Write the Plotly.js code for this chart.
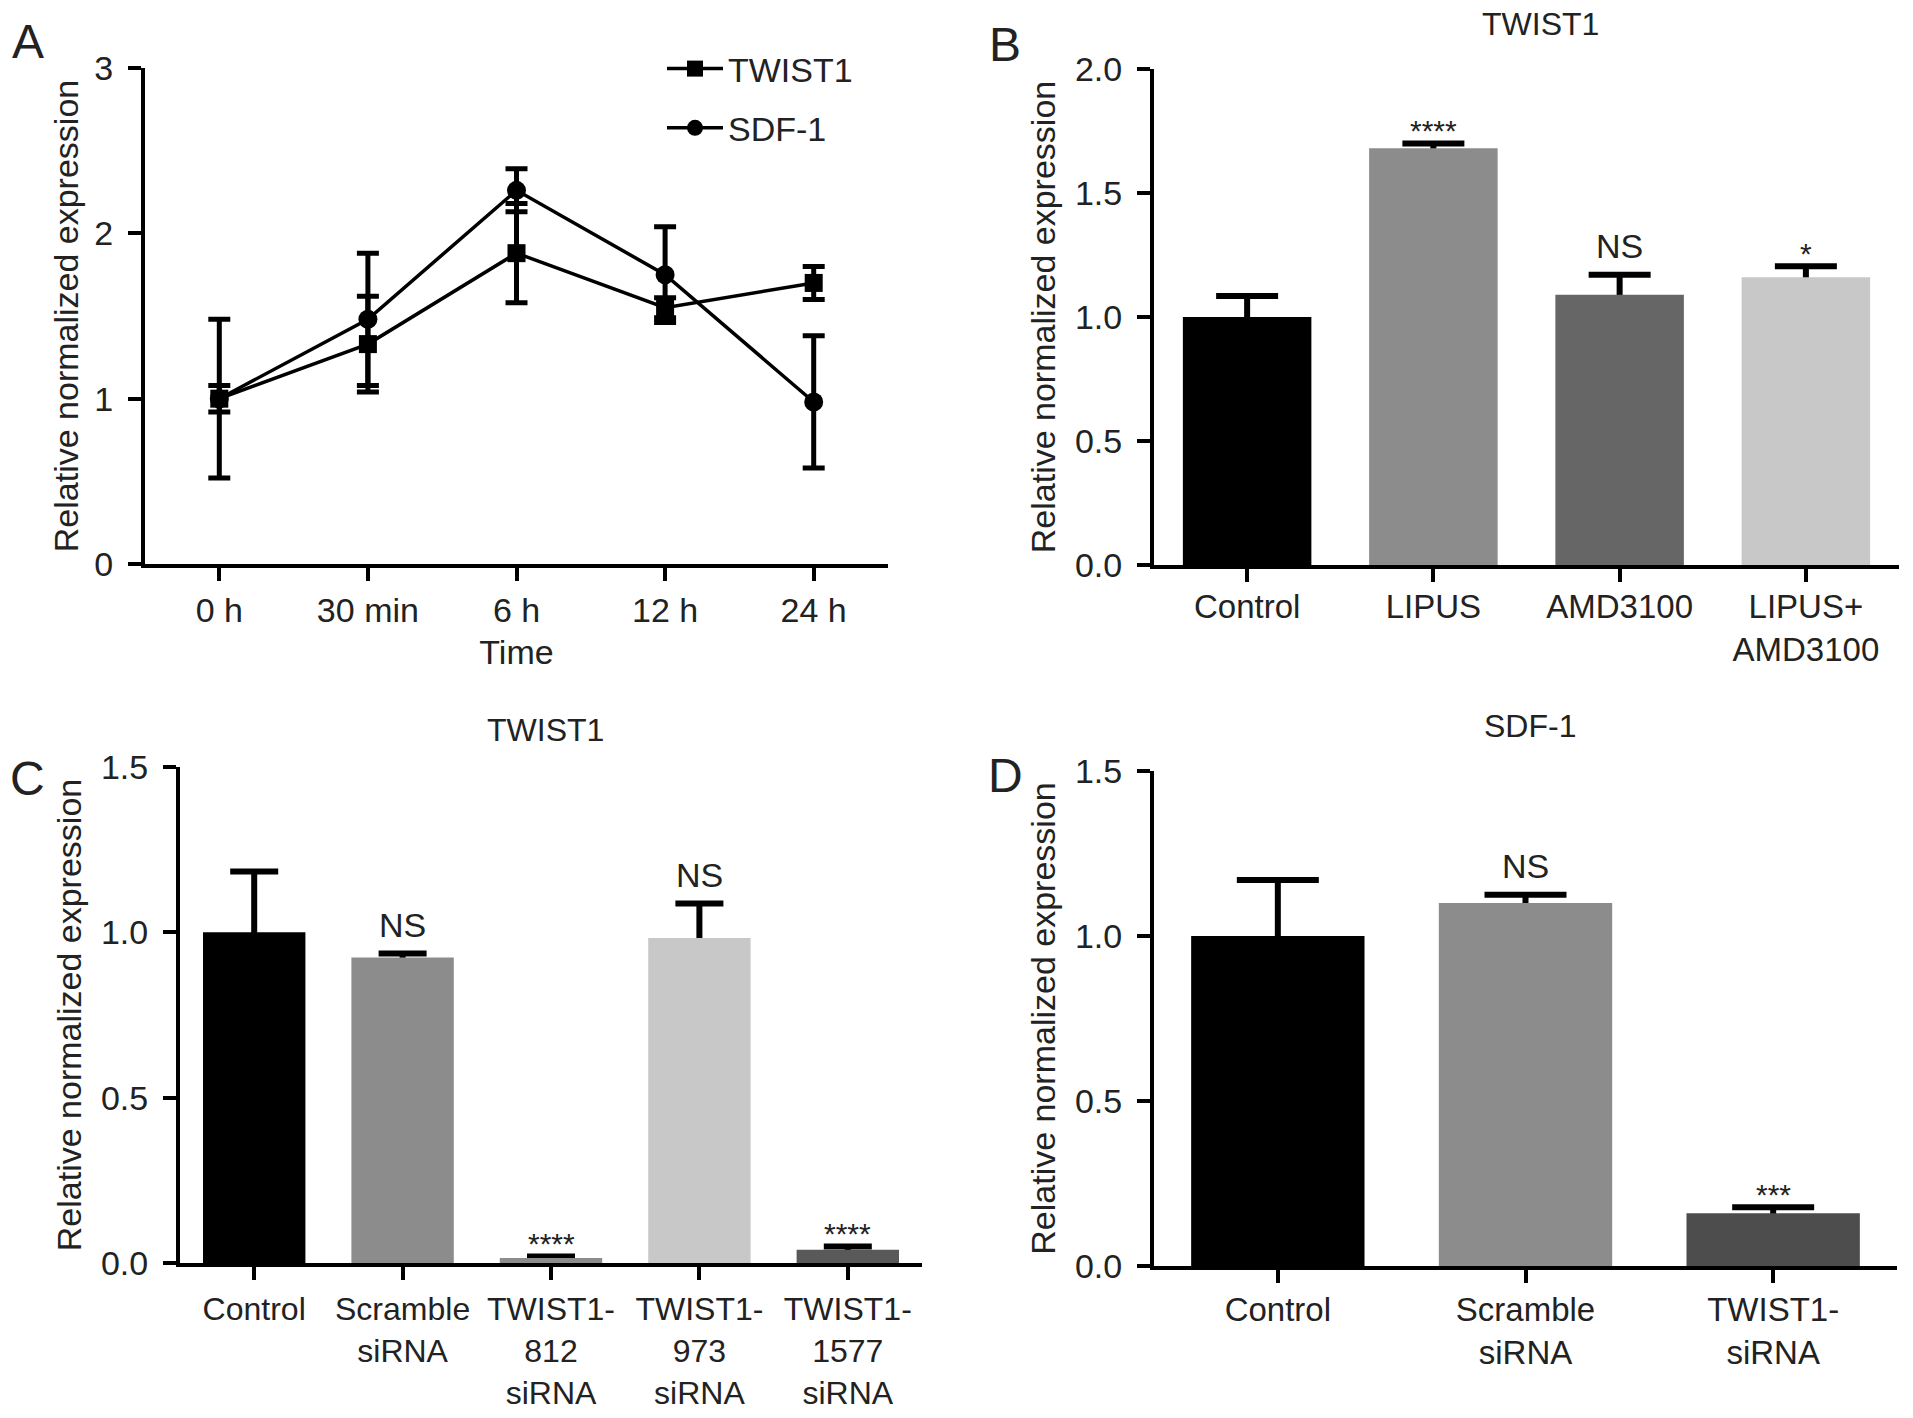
<!DOCTYPE html>
<html>
<head>
<meta charset="utf-8">
<script src="https://cdn.plot.ly/plotly-3.0.1.min.js"></script>
<style>
  html, body { margin: 0; padding: 0; background: #fff; }
  #fig { width: 1913px; height: 1418px; }
</style>
</head>
<body>
<div id="fig"></div>
<script>
// Panel A - time course
const timeLabels = ['0 h', '30 min', '6 h', '12 h', '24 h'];
const twistTime = [1.0, 1.33, 1.88, 1.55, 1.70];
const twistTimeErr = [0.08, 0.29, 0.30, 0.06, 0.10];
const sdfTime = [1.0, 1.48, 2.26, 1.75, 0.98];
const sdfTimeErr = [0.48, 0.40, 0.13, 0.29, 0.40];

// Panel B - TWIST1 with LIPUS / AMD3100
const bLabels = ['Control', 'LIPUS', 'AMD3100', 'LIPUS+<br>AMD3100'];
const bMean = [1.0, 1.68, 1.09, 1.16];
const bErr = [0.085, 0.02, 0.08, 0.045];
const bSig = ['', '****', 'NS', '*'];
const bColors = ['#000000', '#8c8c8c', '#666666', '#c8c8c8'];

// Panel C - TWIST1 siRNA
const cLabels = ['Control', 'Scramble<br>siRNA', 'TWIST1-<br>812<br>siRNA', 'TWIST1-<br>973<br>siRNA', 'TWIST1-<br>1577<br>siRNA'];
const cMean = [1.0, 0.924, 0.015, 0.983, 0.04];
const cErr = [0.184, 0.012, 0.005, 0.104, 0.01];
const cSig = ['', 'NS', '****', 'NS', '****'];
const cColors = ['#000000', '#8c8c8c', '#8c8c8c', '#c8c8c8', '#595959'];

// Panel D - SDF-1 after TWIST1 siRNA
const dLabels = ['Control', 'Scramble<br>siRNA', 'TWIST1-<br>siRNA'];
const dMean = [1.0, 1.10, 0.16];
const dErr = [0.17, 0.025, 0.018];
const dSig = ['', 'NS', '***'];
const dColors = ['#000000', '#8c8c8c', '#4d4d4d'];

const FONT = 'Liberation Sans, Arial, Helvetica, sans-serif';
const TXT = '#222';
const W = 1913, H = 1418;
const px = v => v / W;
const py = v => 1 - v / H;

// error bars go in a clear bar trace drawn first, so the coloured bars
// on top hide the lower half (Prism style, mean + SD)
function barTraces(labels, mean, err, colors, xa, ya, capHalf, bw) {
  return [
    {
      type: 'bar', x: labels, y: mean, xaxis: xa, yaxis: ya, width: bw,
      marker: { color: 'rgba(0,0,0,0)', line: { width: 0 } },
      error_y: { type: 'data', array: err, color: '#000', thickness: 6, width: capHalf },
      showlegend: false, hoverinfo: 'skip'
    },
    {
      type: 'bar', x: labels, y: mean, xaxis: xa, yaxis: ya, width: bw,
      marker: { color: colors, line: { width: 0 } },
      showlegend: false, hoverinfo: 'skip'
    }
  ];
}

const traces = [
  {
    type: 'scatter', mode: 'lines+markers', name: 'TWIST1', legendgroup: 't',
    x: timeLabels, y: twistTime, xaxis: 'x', yaxis: 'y',
    line: { color: '#000', width: 3.5 },
    marker: { symbol: 'square', size: 18, color: '#000' },
    error_y: { type: 'data', array: twistTimeErr, color: '#000', thickness: 5, width: 11 }
  },
  {
    type: 'scatter', mode: 'lines+markers', name: 'SDF-1', legendgroup: 's',
    x: timeLabels, y: sdfTime, xaxis: 'x', yaxis: 'y',
    line: { color: '#000', width: 3.5 },
    marker: { symbol: 'circle', size: 19, color: '#000' },
    error_y: { type: 'data', array: sdfTimeErr, color: '#000', thickness: 5, width: 11 }
  },
  ...barTraces(bLabels, bMean, bErr, bColors, 'x2', 'y2', 31, 0.69),
  ...barTraces(cLabels, cMean, cErr, cColors, 'x3', 'y3', 24, 0.69),
  ...barTraces(dLabels, dMean, dErr, dColors, 'x4', 'y4', 41, 0.7)
];

function xAxis(domain, n, anchor, standoff, fsize) {
  return {
    domain: domain, anchor: anchor, type: 'category', range: [-0.5, n - 0.5],
    showline: true, linewidth: 4, linecolor: '#000',
    ticks: 'outside', ticklen: 13, tickwidth: 4, tickcolor: '#000',
    showgrid: false, zeroline: false,
    tickfont: { family: FONT, size: fsize, color: TXT }, ticklabelstandoff: standoff,
    fixedrange: true
  };
}
function yAxis(domain, range, dtick, fmt, anchor, standoff) {
  return {
    domain: domain, anchor: anchor, range: range, dtick: dtick, tickformat: fmt,
    showline: true, linewidth: 4, linecolor: '#000',
    ticks: 'outside', ticklen: 13, tickwidth: 4, tickcolor: '#000',
    showgrid: false, zeroline: false,
    tickfont: { family: FONT, size: 34, color: TXT }, ticklabelstandoff: 8,
    title: { text: 'Relative normalized expression', font: { family: FONT, size: 34, color: TXT }, standoff: standoff },
    fixedrange: true
  };
}

const annotations = [];
function sigNotes(labels, mean, err, sig, xa, ya) {
  labels.forEach((lab, i) => {
    if (!sig[i]) return;
    const stars = sig[i].indexOf('*') >= 0;
    annotations.push({
      x: lab, y: mean[i] + err[i], xref: xa, yref: ya,
      text: sig[i], showarrow: false, yanchor: 'middle',
      yshift: stars ? 13 : 29,
      font: { family: FONT, size: stars ? 30 : 34, color: TXT }
    });
  });
}
sigNotes(bLabels, bMean, bErr, bSig, 'x2', 'y2');
sigNotes(cLabels, cMean, cErr, cSig, 'x3', 'y3');
sigNotes(dLabels, dMean, dErr, dSig, 'x4', 'y4');

// panel letters and subplot titles
[['A', 28, 42], ['B', 1005, 45], ['C', 27, 778], ['D', 1005, 775]].forEach(p => {
  annotations.push({ text: p[0], x: px(p[1]), y: py(p[2]), xref: 'paper', yref: 'paper',
    showarrow: false, xanchor: 'center', yanchor: 'middle',
    font: { family: FONT, size: 48, color: TXT } });
});
[['TWIST1', 1540, 24], ['TWIST1', 545, 730], ['SDF-1', 1530, 726]].forEach(t => {
  annotations.push({ text: t[0], x: px(t[1]), y: py(t[2]), xref: 'paper', yref: 'paper',
    showarrow: false, xanchor: 'center', yanchor: 'middle',
    font: { family: FONT, size: 32, color: TXT } });
});

const layout = {
  width: W, height: H,
  margin: { l: 0, r: 0, t: 0, b: 0 },
  paper_bgcolor: '#fff', plot_bgcolor: '#fff',
  font: { family: FONT, color: TXT },
  showlegend: true,
  legend: {
    x: px(662), y: py(40), xanchor: 'left', yanchor: 'top',
    font: { family: FONT, size: 34, color: TXT },
    bgcolor: 'rgba(0,0,0,0)', tracegroupgap: 12, itemwidth: 56
  },
  barmode: 'overlay',
  xaxis: Object.assign(xAxis([px(145), px(888)], 5, 'y', 0, 34),
    { title: { text: 'Time', font: { family: FONT, size: 34, color: TXT }, standoff: 13 } }),
  yaxis: yAxis([py(564), py(68)], [0, 3], 1, 'd', 'x', 6),
  xaxis2: xAxis([px(1154), px(1899)], 4, 'y2', -4, 33),
  yaxis2: yAxis([py(565), py(69)], [0, 2], 0.5, '.1f', 'x2', 10),
  xaxis3: xAxis([px(180), px(922)], 5, 'y3', 2, 32),
  yaxis3: yAxis([py(1263), py(767)], [0, 1.5], 0.5, '.1f', 'x3', 10),
  xaxis4: xAxis([px(1154), px(1897)], 3, 'y4', -2, 33),
  yaxis4: yAxis([py(1266), py(771)], [0, 1.5], 0.5, '.1f', 'x4', 10),
  annotations: annotations
};

Plotly.newPlot('fig', traces, layout, { staticPlot: true, displayModeBar: false });
</script>
</body>
</html>
